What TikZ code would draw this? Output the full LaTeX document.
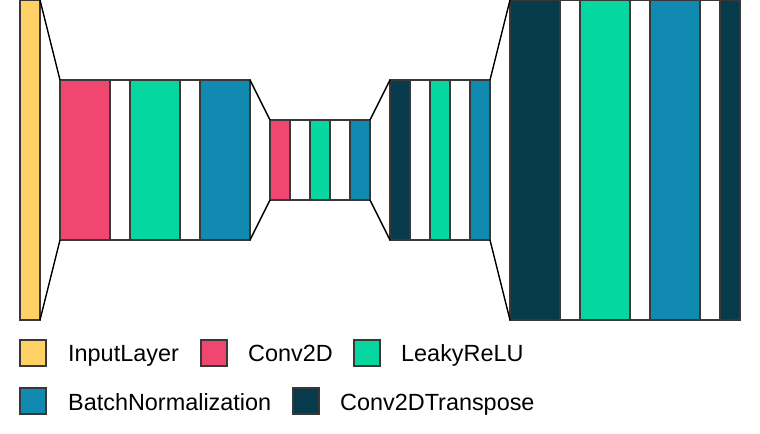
\documentclass[tikz,border=0pt]{standalone}
\usepackage{fontspec}
\setmainfont{Liberation Sans}
\definecolor{cin}{HTML}{FFD166}
\definecolor{cconv}{HTML}{EF476F}
\definecolor{crelu}{HTML}{06D6A0}
\definecolor{cbn}{HTML}{118AB2}
\definecolor{ctr}{HTML}{073B4C}
\begin{document}
\begin{tikzpicture}[x=1bp,y=-1bp,
  layer/.style={draw=black!78,line width=1.1bp,inner sep=0pt,outer sep=0pt,anchor=north west,minimum height=#1},
  funnel/.style={draw=black,line width=1.4bp},
  sq/.style={draw=black!78,line width=1.1bp,inner sep=0pt,outer sep=0pt,anchor=north west,minimum width=26bp,minimum height=26bp},
  lab/.style={anchor=base west,inner sep=0pt,font=\fontsize{23.5pt}{28pt}\selectfont}]
\useasboundingbox (0,0) rectangle (760,434);
% input
\node[layer=320bp,fill=cin,minimum width=20bp] (in) at (20,0) {};
% block 2
\node[layer=160bp,fill=cconv,minimum width=50bp] (c1) at (60,80) {};
\node[layer=160bp,fill=white,minimum width=20bp] (w1) at (110,80) {};
\node[layer=160bp,fill=crelu,minimum width=50bp] (l1) at (130,80) {};
\node[layer=160bp,fill=white,minimum width=20bp] (w2) at (180,80) {};
\node[layer=160bp,fill=cbn,minimum width=50bp] (b1) at (200,80) {};
% block 3
\node[layer=80bp,fill=cconv,minimum width=20bp] (c2) at (270,120) {};
\node[layer=80bp,fill=white,minimum width=20bp] (w3) at (290,120) {};
\node[layer=80bp,fill=crelu,minimum width=20bp] (l2) at (310,120) {};
\node[layer=80bp,fill=white,minimum width=20bp] (w4) at (330,120) {};
\node[layer=80bp,fill=cbn,minimum width=20bp] (b2) at (350,120) {};
% block 4
\node[layer=160bp,fill=ctr,minimum width=20bp] (t1) at (390,80) {};
\node[layer=160bp,fill=white,minimum width=20bp] (w5) at (410,80) {};
\node[layer=160bp,fill=crelu,minimum width=20bp] (l3) at (430,80) {};
\node[layer=160bp,fill=white,minimum width=20bp] (w6) at (450,80) {};
\node[layer=160bp,fill=cbn,minimum width=20bp] (b3) at (470,80) {};
% block 5
\node[layer=320bp,fill=ctr,minimum width=50bp] (t2) at (510,0) {};
\node[layer=320bp,fill=white,minimum width=20bp] (w7) at (560,0) {};
\node[layer=320bp,fill=crelu,minimum width=50bp] (l4) at (580,0) {};
\node[layer=320bp,fill=white,minimum width=20bp] (w8) at (630,0) {};
\node[layer=320bp,fill=cbn,minimum width=50bp] (b4) at (650,0) {};
\node[layer=320bp,fill=white,minimum width=20bp] (w9) at (700,0) {};
\node[layer=320bp,fill=ctr,minimum width=20bp] (t3) at (720,0) {};
% funnels
\draw[funnel] (in.north east) -- (c1.north west);
\draw[funnel] (in.south east) -- (c1.south west);
\draw[funnel] (b1.north east) -- (c2.north west);
\draw[funnel] (b1.south east) -- (c2.south west);
\draw[funnel] (b2.north east) -- (t1.north west);
\draw[funnel] (b2.south east) -- (t1.south west);
\draw[funnel] (b3.north east) -- (t2.north west);
\draw[funnel] (b3.south east) -- (t2.south west);
% legend
\node[sq,fill=cin] (k1) at (20,340) {};
\node[lab] (t_k1) at (68,362) {InputLayer};
\node[sq,fill=cconv] (k2) at (201,340) {};
\node[lab] (t_k2) at (248,362) {Conv2D};
\node[sq,fill=crelu] (k3) at (354,340) {};
\node[lab] (t_k3) at (401,362) {LeakyReLU};
\node[sq,fill=cbn] (k4) at (20,388) {};
\node[lab] (t_k4) at (68,410) {BatchNormalization};
\node[sq,fill=ctr] (k5) at (293,388) {};
\node[lab] (t_k5) at (340,410) {Conv2DTranspose};
\end{tikzpicture}
\end{document}
